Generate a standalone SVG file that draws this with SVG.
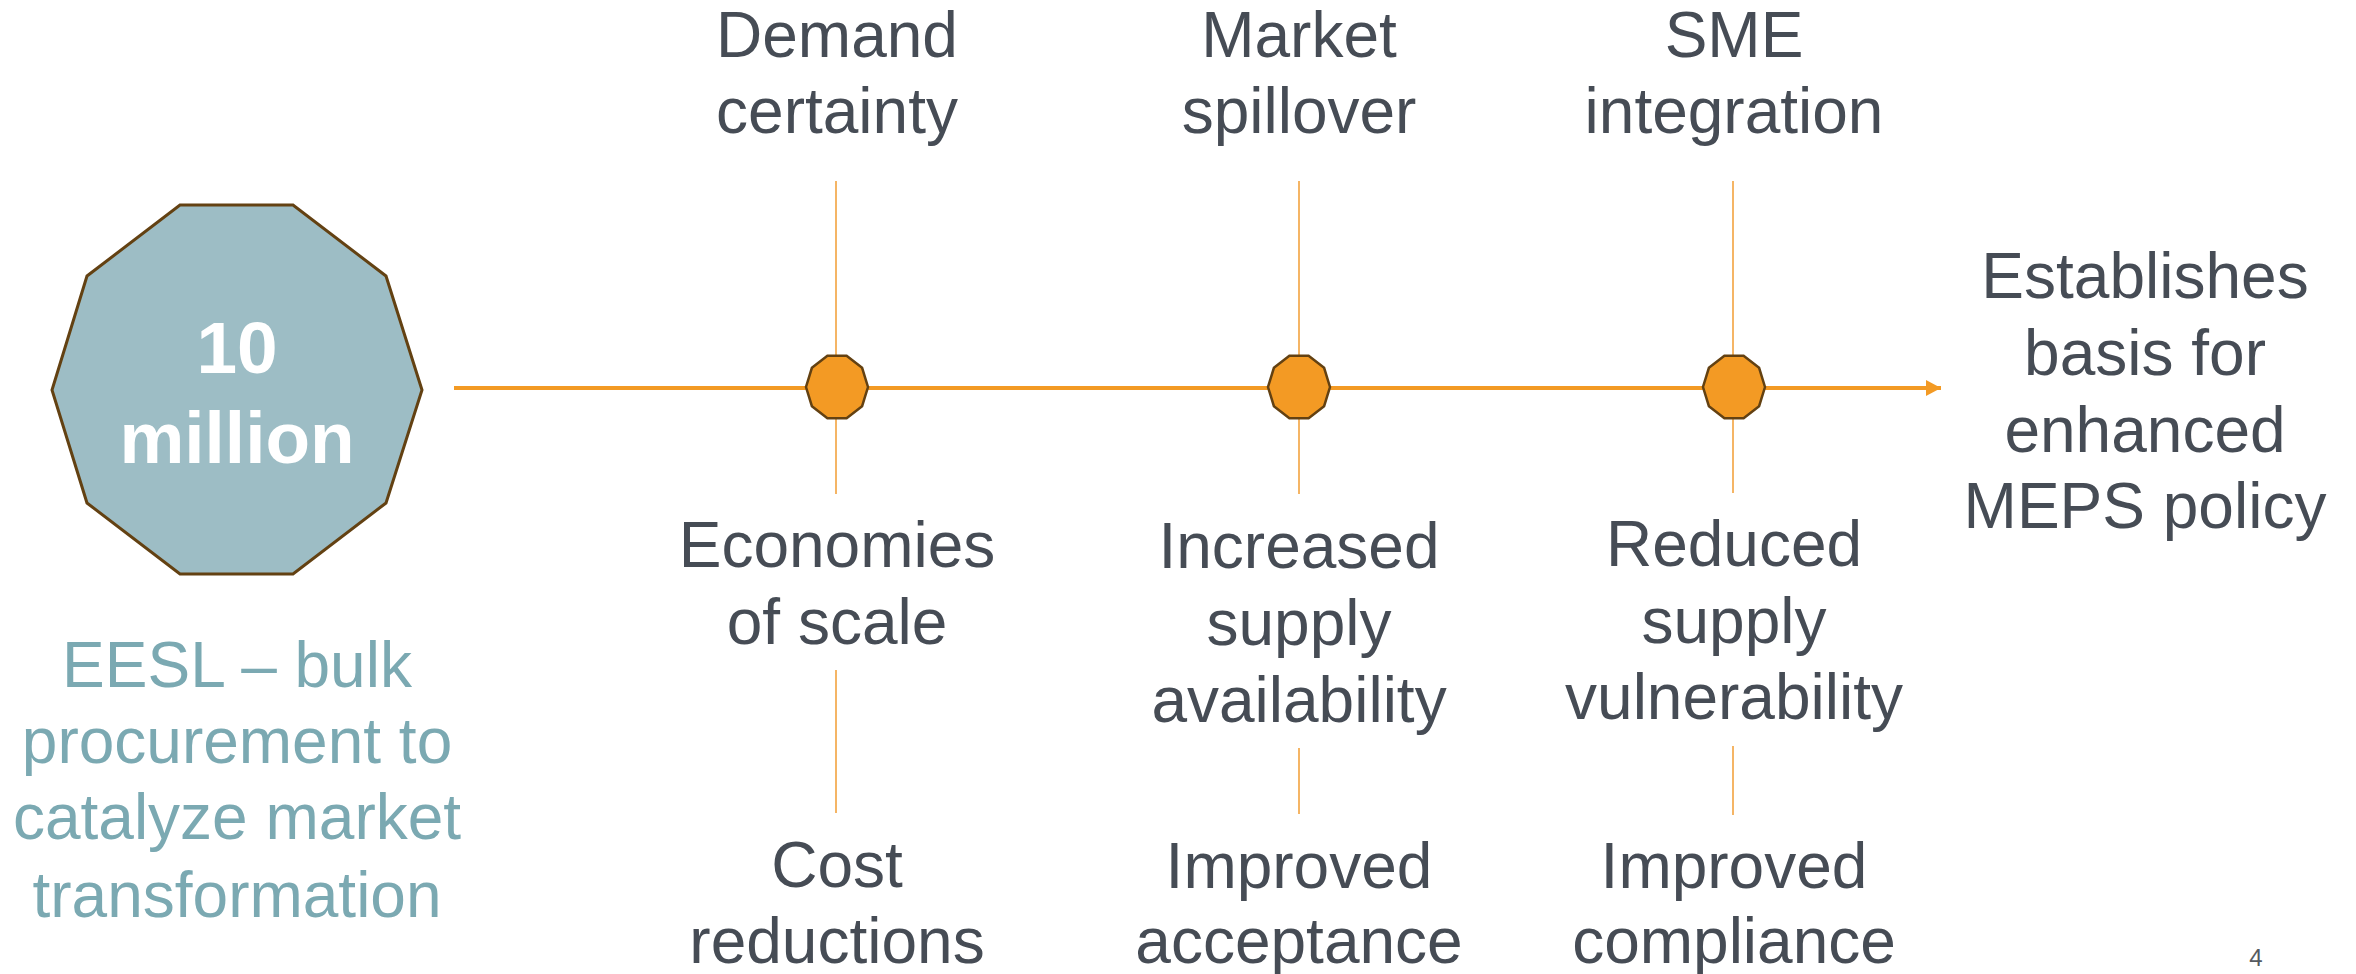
<svg xmlns="http://www.w3.org/2000/svg" width="2356" height="974" viewBox="0 0 2356 974">
<style>
text{font-family:"Liberation Sans",Arial,Helvetica,sans-serif;text-anchor:middle}
.lbl{font-size:64px;fill:#464C55}
.big{font-size:73px;font-weight:bold;fill:#FFFFFF}
.eesl{font-size:64px;fill:#7BA9B2}
.pg{font-size:24px;fill:#555A60}
.vline{stroke:#F5B565;stroke-width:2;fill:none}
.axis{stroke:#F39A24;stroke-width:4;fill:none}
.dot{fill:#F39A24;stroke:#634112;stroke-width:2.5}
</style>
<defs>
<marker id="arrow" markerUnits="userSpaceOnUse" markerWidth="16" markerHeight="16" refX="15" refY="8" orient="auto">
<path d="M0,0 L15,8 L0,16 Z" fill="#F39A24"/>
</marker>
<polygon id="dec" points="31,0 25.1,-19.2 9.6,-31.3 -9.6,-31.3 -25.1,-19.2 -31,0 -25.1,19.2 -9.6,31.3 9.6,31.3 25.1,19.2"/>
</defs>
<rect width="2356" height="974" fill="#FFFFFF"/>
<g id="connectors">
<line class="vline" x1="836" y1="181" x2="836" y2="494"/>
<line class="vline" x1="836" y1="670" x2="836" y2="813"/>
<line class="vline" x1="1299" y1="181" x2="1299" y2="494"/>
<line class="vline" x1="1299" y1="748" x2="1299" y2="814"/>
<line class="vline" x1="1733" y1="181" x2="1733" y2="493"/>
<line class="vline" x1="1733" y1="746" x2="1733" y2="815"/>
<line class="axis" x1="454" y1="388" x2="1941" y2="388" marker-end="url(#arrow)"/>
</g>
<g id="source">
<polygon points="422,390 386,276 293,205 180,205 87,276 52,390 87,503 180,574 293,574 386,503" fill="#9DBDC5" stroke="#634112" stroke-width="3"/>
<text class="big" x="237" y="373">10</text>
<text class="big" x="237" y="463">million</text>
</g>
<g id="source-caption">
<text class="eesl" x="237" y="687">EESL – bulk</text>
<text class="eesl" x="237" y="763">procurement to</text>
<text class="eesl" x="237" y="839">catalyze market</text>
<text class="eesl" x="237" y="917">transformation</text>
</g>
<g id="milestone1">
<use href="#dec" class="dot" x="837" y="387"/>
<text class="lbl" x="837" y="57">Demand</text>
<text class="lbl" x="837" y="133">certainty</text>
<text class="lbl" x="837" y="567">Economies</text>
<text class="lbl" x="837" y="644">of scale</text>
<text class="lbl" x="837" y="887">Cost</text>
<text class="lbl" x="837" y="963">reductions</text>
</g>
<g id="milestone2">
<use href="#dec" class="dot" x="1299" y="387"/>
<text class="lbl" x="1299" y="57">Market</text>
<text class="lbl" x="1299" y="133">spillover</text>
<text class="lbl" x="1299" y="568">Increased</text>
<text class="lbl" x="1299" y="645">supply</text>
<text class="lbl" x="1299" y="722">availability</text>
<text class="lbl" x="1299" y="888">Improved</text>
<text class="lbl" x="1299" y="963">acceptance</text>
</g>
<g id="milestone3">
<use href="#dec" class="dot" x="1734" y="387"/>
<text class="lbl" x="1734" y="57">SME</text>
<text class="lbl" x="1734" y="133">integration</text>
<text class="lbl" x="1734" y="566">Reduced</text>
<text class="lbl" x="1734" y="643">supply</text>
<text class="lbl" x="1734" y="719">vulnerability</text>
<text class="lbl" x="1734" y="888">Improved</text>
<text class="lbl" x="1734" y="963">compliance</text>
</g>
<g id="outcome">
<text class="lbl" x="2145" y="298">Establishes</text>
<text class="lbl" x="2145" y="375">basis for</text>
<text class="lbl" x="2145" y="452">enhanced</text>
<text class="lbl" x="2145" y="528">MEPS policy</text>
</g>
<text class="pg" x="2256" y="966">4</text>
</svg>
